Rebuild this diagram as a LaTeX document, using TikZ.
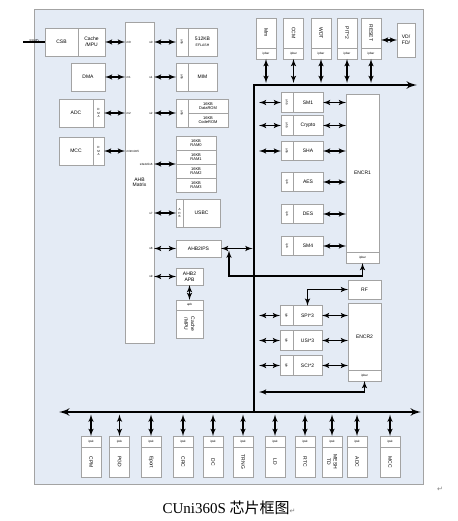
\documentclass[tikz,border=0pt]{standalone}
\usepackage{fontspec}
\usepackage{graphicx}
\setmainfont{Liberation Sans}
\newfontfamily\capfont{Liberation Serif}
\newfontfamily\cjk{Noto Sans CJK SC}
\newfontfamily\markfont{DejaVu Sans}
\usetikzlibrary{arrows, positioning}
\definecolor{panel}{HTML}{E4EBF5}
\definecolor{edge}{HTML}{A3A3A3}
\newcommand{\minitext}{\fontsize{3.5}{4}\selectfont}
\tikzset{
	box/.style = {rectangle, draw=edge, line width=0.7pt, fill=white, inner sep=0pt, outer sep=0pt, align=center, font=\fontsize{5}{5.6}\selectfont},
	tag/.style = {box, font=\fontsize{3}{3.4}\selectfont},
	master/.style = {box, minimum width=34pt, minimum height=28pt},
	slavecol/.style = {tag, minimum width=12pt, minimum height=28pt},
	rom/.style = {box, minimum width=40pt, minimum height=14pt, font=\fontsize{4}{4.4}\selectfont},
	unit/.style = {box, minimum width=30pt, minimum height=19.5pt},
	unitcol/.style = {tag, minimum width=12pt, minimum height=19.5pt},
	dev/.style = {box, minimum width=20pt, minimum height=30pt},
	devbar/.style = {tag, minimum width=20pt, minimum height=11pt},
	port/.style = {font=\fontsize{3}{3.4}\selectfont, inner sep=0.8pt},
	line/.style = {draw, line width=1.5pt, latex'-latex'},
	bus/.style = {draw, line width=2.6pt}
}
\begin{document}
\begin{tikzpicture}[x=1pt, y=-1pt, node distance=25pt]
	\useasboundingbox (0,0) rectangle (457,521);
	\draw [draw=edge, line width=0.8pt, fill=panel] (34,9) rectangle (423,484);

	% masters
	\node (csb) [master, minimum width=33pt] at (61.5,42) {CSB};
	\node (cachempu) [master, right=0pt of csb, minimum width=27pt] {Cache\\/MPU};
	\node (dma) [master] at (88,77) {DMA};
	\node (adc) [master] at (76,113) {ADC};
	\node (adcdma) [tag, right=0pt of adc, minimum width=11pt, minimum height=28pt] {D\\M\\A};
	\node (mcc) [master] at (76,151) {MCC};
	\node (mccdma) [tag, right=0pt of mcc, minimum width=11pt, minimum height=28pt] {D\\M\\A};
	\coordinate (swd) at (23,42);

	% AHB matrix
	\node (matrix) [box, minimum width=29pt, minimum height=321pt] at (139.5,182.5) {AHB\\Matrix};

	% slaves
	\node (flashcol) [slavecol] at (182,42) {\rotatebox{-90}{ahb}};
	\node (flash) [box, right=0pt of flashcol, minimum width=29pt, minimum height=28pt] {512KB\\{\minitext EFLASH}};
	\node (mimcol) [slavecol] at (182,77) {\rotatebox{-90}{ahb}};
	\node (mim) [box, right=0pt of mimcol, minimum width=29pt, minimum height=28pt] {MIM};
	\node (romcol) [slavecol] at (182,113) {\rotatebox{-90}{ahb}};
	\node (datarom) [rom, anchor=north west] at (romcol.north east) {16KB\\DataROM};
	\node (coderom) [rom, below=0pt of datarom] {16KB\\CodeROM};
	\node (ram0) [rom] at (196,143) {16KB\\RAM0};
	\node (ram1) [rom, node distance=14pt, below of=ram0] {16KB\\RAM1};
	\node (ram2) [rom, node distance=14pt, below of=ram1] {16KB\\RAM2};
	\node (ram3) [rom, node distance=14pt, below of=ram2] {16KB\\RAM3};
	\node (usbccol) [tag, minimum width=7pt, minimum height=28pt] at (179.5,213) {A\\H\\B};
	\node (usbc) [box, right=0pt of usbccol, minimum width=37pt, minimum height=28pt] {USBC};
	\node (ahb2ips) [box, minimum width=45pt, minimum height=17pt] at (198.5,248.5) {AHB2IPS};
	\node (ahb2apb) [box, minimum width=27pt, minimum height=17pt] at (189.5,276.5) {AHB2\\APB};
	\node (apbtag) [tag, minimum width=27pt, minimum height=10pt] at (189.5,305) {apb};
	\node (apbcache) [box, below=0pt of apbtag, minimum width=27pt, minimum height=28pt] {\rotatebox{-90}{\shortstack{Cache\\/MPU}}};

	% top peripherals
	\node (mm) [dev] at (266,33) {\rotatebox{-90}{Mm}};
	\node (mmbar) [devbar, below=0pt of mm] {ipbar};
	\node (ccm) [dev, node distance=27.5pt, right of=mm] {\rotatebox{-90}{CCM}};
	\node (ccmbar) [devbar, below=0pt of ccm] {ipbar};
	\node (wdt) [dev, node distance=27.5pt, right of=ccm] {\rotatebox{-90}{WDT}};
	\node (wdtbar) [devbar, below=0pt of wdt] {ipbar};
	\node (pit) [dev, node distance=26pt, right of=wdt] {\rotatebox{-90}{PIT*2}};
	\node (pitbar) [devbar, below=0pt of pit] {ipbar};
	\node (reset) [dev, node distance=24pt, right of=pit] {\rotatebox{-90}{RESET}};
	\node (resetbar) [devbar, below=0pt of reset] {ipbar};
	\node (vdfd) [box, minimum width=18pt, minimum height=34pt] at (406,40) {VD/\\FD/};

	% ENCR1 and its units
	\node (encr1) [box, minimum width=33pt, minimum height=158pt] at (362.5,173) {ENCR1};
	\node (encr1bar) [devbar, below=0pt of encr1, minimum width=33pt] {ipbar};
	\node (sm1col) [unitcol] at (287,102.5) {\rotatebox{-90}{ahb}};
	\node (sm1) [unit, right=0pt of sm1col] {SM1};
	\node (cryptocol) [unitcol, node distance=23pt, below of=sm1col] {\rotatebox{-90}{ahb}};
	\node (crypto) [unit, right=0pt of cryptocol] {Crypto};
	\node (shacol) [unitcol, node distance=25.5pt, below of=cryptocol] {\rotatebox{-90}{ahb}};
	\node (sha) [unit, right=0pt of shacol] {SHA};
	\node (aescol) [unitcol, node distance=31pt, below of=shacol] {\rotatebox{-90}{ipb}};
	\node (aes) [unit, right=0pt of aescol] {AES};
	\node (descol) [unitcol, node distance=32pt, below of=aescol] {\rotatebox{-90}{ipb}};
	\node (des) [unit, right=0pt of descol] {DES};
	\node (sm4col) [unitcol, node distance=32pt, below of=descol] {\rotatebox{-90}{ipb}};
	\node (sm4) [unit, right=0pt of sm4col] {SM4};

	% ENCR2 and its units
	\node (rf) [box, minimum width=33pt, minimum height=19pt] at (364.5,289.5) {RF};
	\node (encr2) [box, minimum width=33pt, minimum height=67pt] at (364.5,336.5) {ENCR2};
	\node (encr2bar) [devbar, below=0pt of encr2, minimum width=33pt] {ipbar};
	\node (spicol) [unitcol, minimum width=13pt] at (286.5,315.5) {\rotatebox{-90}{ipb}};
	\node (spi) [unit, right=0pt of spicol, minimum width=29pt] {SPI*3};
	\node (usicol) [unitcol, minimum width=13pt, below of=spicol] {\rotatebox{-90}{ipb}};
	\node (usi) [unit, right=0pt of usicol, minimum width=29pt] {USI*3};
	\node (scicol) [unitcol, minimum width=13pt, below of=usicol] {\rotatebox{-90}{ipb}};
	\node (sci) [unit, right=0pt of scicol, minimum width=29pt] {SCI*2};

	% bottom peripherals
	\node (cpmtag) [devbar] at (91,441.5) {ipsk};
	\node (cpm) [dev, below=0pt of cpmtag] {\rotatebox{-90}{CPM}};
	\node (pgdtag) [devbar, node distance=28.5pt, right of=cpmtag] {ipsk};
	\node (pgd) [dev, below=0pt of pgdtag] {\rotatebox{-90}{PGD}};
	\node (eporttag) [devbar, node distance=31.5pt, right of=pgdtag] {ipsk};
	\node (eport) [dev, below=0pt of eporttag] {\rotatebox{-90}{Eport}};
	\node (crctag) [devbar, node distance=32pt, right of=eporttag] {ipsk};
	\node (crc) [dev, below=0pt of crctag] {\rotatebox{-90}{CRC}};
	\node (dctag) [devbar, node distance=30pt, right of=crctag] {ipsk};
	\node (dc) [dev, below=0pt of dctag] {\rotatebox{-90}{DC}};
	\node (trngtag) [devbar, node distance=30pt, right of=dctag] {ipsk};
	\node (trng) [dev, below=0pt of trngtag] {\rotatebox{-90}{TRNG}};
	\node (ldtag) [devbar, node distance=32pt, right of=trngtag] {ipsk};
	\node (ld) [dev, below=0pt of ldtag] {\rotatebox{-90}{LD}};
	\node (rtctag) [devbar, node distance=30pt, right of=ldtag] {ipsk};
	\node (rtc) [dev, below=0pt of rtctag] {\rotatebox{-90}{RTC}};
	\node (meshtag) [devbar, node distance=27pt, right of=rtctag] {ipsk};
	\node (mesh) [dev, below=0pt of meshtag] {\rotatebox{-90}{\shortstack{MESH\\TD}}};
	\node (adcbtag) [devbar, node distance=25pt, right of=meshtag] {ipsk};
	\node (adcb) [dev, below=0pt of adcbtag] {\rotatebox{-90}{ADC}};
	\node (mccbtag) [devbar, node distance=33pt, right of=adcbtag] {ipsk};
	\node (mccb) [dev, below=0pt of mccbtag] {\rotatebox{-90}{MCC}};

	% buses
	\coordinate (bustop) at (254,85);
	\coordinate (busbot) at (254,412);
	\coordinate (busend) at (417,85);
	\coordinate (botleft) at (59,412);
	\coordinate (botright) at (421,412);
	\coordinate (ipsjoin) at (229,250.5);
	\coordinate (enc2ret) at (259,392);
	\path [bus, -latex'] (busbot) -- (bustop) -- (busend);
	\path [bus, latex'-latex'] (botleft) -- (botright);

	% master links
	\draw [line width=1.2pt] (swd) -- node [port, above=-1.5pt, font=\fontsize{4}{4.5}\selectfont] {SWD} (csb.west);
	\path [line] (cachempu.east) -- (cachempu.east -| matrix.west) node [port, right] {m0};
	\path [line] (dma.east) -- (dma.east -| matrix.west) node [port, right] {m1};
	\path [line] (adcdma.east) -- (adcdma.east -| matrix.west) node [port, right] {m2};
	\path [line] (mccdma.east) -- (mccdma.east -| matrix.west) node [port, right] {m3m4m5};

	% slave links
	\path [line] (flashcol.west -| matrix.east) node [port, left] {s0} -- (flashcol.west);
	\path [line] (mimcol.west -| matrix.east) node [port, left] {s1} -- (mimcol.west);
	\path [line] (romcol.west -| matrix.east) node [port, left] {s2} -- (romcol.west);
	\path [line] (ram1.south west -| matrix.east) node [port, left] {s3s4s5s6} -- (ram1.south west);
	\path [line] (usbccol.west -| matrix.east) node [port, left] {s7} -- (usbccol.west);
	\path [line] (ahb2ips.west -| matrix.east) node [port, left] {s8} -- (ahb2ips.west);
	\path [line] (ahb2apb.west -| matrix.east) node [port, left] {s9} -- (ahb2apb.west);
	\path [line] (ahb2apb.south) -- (apbtag.north);
	\path [line, shorten >=1.5pt] (ahb2ips.east) -- (ahb2ips.east -| bustop);
	\path [line] (ipsjoin) |- ([yshift=-13pt]encr1bar.south) -- (encr1bar.south);

	% top peripheral links
	\path [line, shorten >=2pt] (mmbar.south) -- (mmbar.south |- bustop);
	\path [line, shorten >=2pt] (ccmbar.south) -- (ccmbar.south |- bustop);
	\path [line, shorten >=2pt] (wdtbar.south) -- (wdtbar.south |- bustop);
	\path [line, shorten >=2pt] (pitbar.south) -- (pitbar.south |- bustop);
	\path [line, shorten >=2pt] (resetbar.south) -- (resetbar.south |- bustop);
	\path [line] (vdfd.west -| reset.east) -- (vdfd.west);

	% encryption links
	\path [line, shorten <=5pt] (sm1col.west -| bustop) -- (sm1col.west);
	\path [line, shorten <=5pt] (cryptocol.west -| bustop) -- (cryptocol.west);
	\path [line, shorten <=5pt] (shacol.west -| bustop) -- (shacol.west);
	\path [line] (sm1.east) -- (sm1.east -| encr1.west);
	\path [line] (crypto.east) -- (crypto.east -| encr1.west);
	\path [line] (sha.east) -- (sha.east -| encr1.west);
	\path [line] (aes.east) -- (aes.east -| encr1.west);
	\path [line] (des.east) -- (des.east -| encr1.west);
	\path [line] (sm4.east) -- (sm4.east -| encr1.west);
	\path [line, shorten <=5pt] (spicol.west -| bustop) -- (spicol.west);
	\path [line, shorten <=5pt] (usicol.west -| bustop) -- (usicol.west);
	\path [line, shorten <=5pt] (scicol.west -| bustop) -- (scicol.west);
	\path [line] (spi.east) -- (spi.east -| encr2.west);
	\path [line] (usi.east) -- (usi.east -| encr2.west);
	\path [line] (sci.east) -- (sci.east -| encr2.west);
	\path [line] (rf.west) -| (spi.north);
	\path [line] (encr2bar.south) |- (enc2ret);

	% bottom peripheral links
	\path [line, shorten <=2.5pt] (cpmtag.north |- busbot) -- (cpmtag.north);
	\path [line, shorten <=2.5pt] (pgdtag.north |- busbot) -- (pgdtag.north);
	\path [line, shorten <=2.5pt] (eporttag.north |- busbot) -- (eporttag.north);
	\path [line, shorten <=2.5pt] (crctag.north |- busbot) -- (crctag.north);
	\path [line, shorten <=2.5pt] (dctag.north |- busbot) -- (dctag.north);
	\path [line, shorten <=2.5pt] (trngtag.north |- busbot) -- (trngtag.north);
	\path [line, shorten <=2.5pt] (ldtag.north |- busbot) -- (ldtag.north);
	\path [line, shorten <=2.5pt] (rtctag.north |- busbot) -- (rtctag.north);
	\path [line, shorten <=2.5pt] (meshtag.north |- busbot) -- (meshtag.north);
	\path [line, shorten <=2.5pt] (adcbtag.north |- busbot) -- (adcbtag.north);
	\path [line, shorten <=2.5pt] (mccbtag.north |- busbot) -- (mccbtag.north);

	% caption
	\node (caption) at (229,508) {\capfont\fontsize{15}{18}\selectfont CUni360S {\cjk 芯片框图}{\markfont\fontsize{7}{8}\selectfont\color{gray}↵}};
	\node (eolmark) at (440,489) {\markfont\fontsize{7}{8}\selectfont\color{gray}↵};
\end{tikzpicture}
\end{document}
